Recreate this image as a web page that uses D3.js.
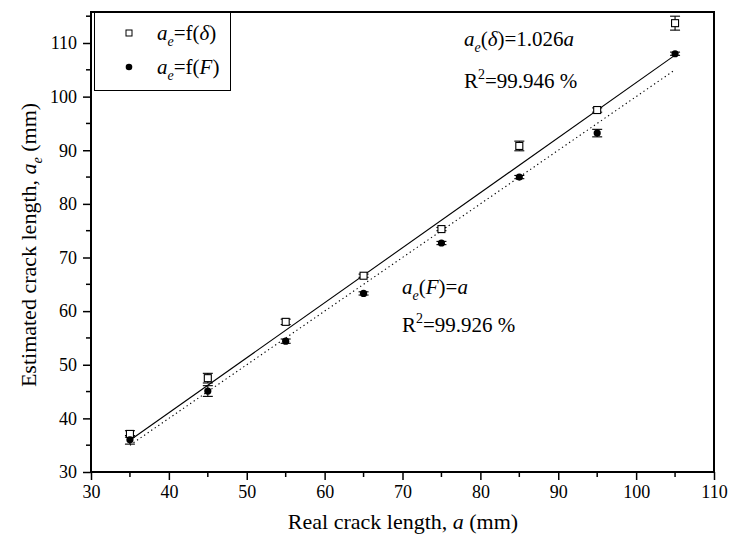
<!DOCTYPE html>
<html><head><meta charset="utf-8">
<script src="https://cdn.jsdelivr.net/npm/d3@7"></script>
<style>body{margin:0;background:#fff}svg{display:block}svg text{font-family:"Liberation Serif","Tinos","Times New Roman","Noto Serif","DejaVu Serif",serif !important;fill:#000}</style>
</head><body>
<svg id="c" width="729" height="536"></svg>
<script>
const crackLength = [35, 45, 55, 65, 75, 85, 95, 105];
const aeDelta = [37.1, 47.5, 58.0, 66.6, 75.3, 90.8, 97.5, 113.7];
const aeDeltaErr = [0.6, 0.9, 0.5, 0.3, 0.3, 0.9, 0.4, 1.3];
const aeForce = [36.0, 45.1, 54.4, 63.3, 72.7, 85.0, 93.2, 108.0];
const aeForceErr = [0.8, 1.0, 0.4, 0.3, 0.3, 0.3, 0.7, 0.3];
const fitRange = [35, 105];
const fitSlopeDelta = 1.026;
const fitSlopeForce = 1.0;
const xTicks = [30, 40, 50, 60, 70, 80, 90, 100, 110];
const yTicks = [30, 40, 50, 60, 70, 80, 90, 100, 110];

const FONT = '"Liberation Serif","Tinos","Times New Roman","Noto Serif","DejaVu Serif",serif';
const svg = d3.select("#c").attr("font-family", FONT);
const L = 91, R = 714, T = 12, B = 472;
const x = d3.scaleLinear().domain([30, 110]).range([L, R]);
const y = d3.scaleLinear().domain([30, 110]).range([B, 43]);

// frame
svg.append("rect").attr("x", L).attr("y", T).attr("width", R - L).attr("height", B - T)
  .attr("fill", "none").attr("stroke", "#000").attr("stroke-width", 2);

// x axis
const xMinor = d3.range(35, 110, 10);
const gx = svg.append("g").attr("transform", `translate(0,${B})`);
gx.call(d3.axisBottom(x).tickValues(xTicks).tickSize(8).tickPadding(5).tickFormat(d3.format("d")));
gx.attr("font-family", FONT);
gx.call(g => g.select(".domain").remove());
gx.selectAll(".tick line").attr("stroke-width", 1.5);
gx.selectAll(".tick text").attr("font-size", 18);
gx.selectAll(".minor").data(xMinor).enter().append("line").attr("class", "minor")
  .attr("x1", d => x(d)).attr("x2", d => x(d)).attr("y1", 0).attr("y2", 5)
  .attr("stroke", "#000").attr("stroke-width", 1.5);

// y axis
const yMinor = d3.range(35, 116, 10);
const gy = svg.append("g").attr("transform", `translate(${L},0)`);
gy.call(d3.axisLeft(y).tickValues(yTicks).tickSize(8).tickPadding(6).tickFormat(d3.format("d")));
gy.attr("font-family", FONT);
gy.call(g => g.select(".domain").remove());
gy.selectAll(".tick line").attr("stroke-width", 1.5);
gy.selectAll(".tick text").attr("font-size", 18);
gy.selectAll(".minor").data(yMinor).enter().append("line").attr("class", "minor")
  .attr("y1", d => y(d)).attr("y2", d => y(d)).attr("x1", 0).attr("x2", -5)
  .attr("stroke", "#000").attr("stroke-width", 1.5);

// axis titles
const xt = svg.append("text").attr("x", 403).attr("y", 529).attr("text-anchor", "middle").attr("font-size", 22);
xt.append("tspan").text("Real crack length, ");
xt.append("tspan").attr("font-style", "italic").text("a");
xt.append("tspan").text(" (mm)");

const yt = svg.append("text").attr("transform", "translate(36,245) rotate(-90)").attr("text-anchor", "middle").attr("font-size", 22);
yt.append("tspan").text("Estimated crack length, ");
yt.append("tspan").attr("font-style", "italic").text("a");
yt.append("tspan").attr("font-style", "italic").attr("font-size", 14).attr("dy", 6).text("e");
yt.append("tspan").attr("dy", -6).text(" (mm)");

// fit lines
const line = d3.line().x(d => x(d[0])).y(d => y(d[1]));
svg.append("path").datum(fitRange.map(v => [v, v * fitSlopeDelta])).attr("d", line)
  .attr("fill", "none").attr("stroke", "#000").attr("stroke-width", 1.1);
svg.append("path").datum(fitRange.map(v => [v, v * fitSlopeForce])).attr("d", line)
  .attr("fill", "none").attr("stroke", "#000").attr("stroke-width", 1.1).attr("stroke-dasharray", "1.3,3");

// error bars
function errBars(vals, errs) {
  const g = svg.append("g").attr("stroke", "#000").attr("stroke-width", 1.1);
  crackLength.forEach((c, i) => {
    const cx = x(c), y1 = y(vals[i] + errs[i]), y2 = y(vals[i] - errs[i]);
    g.append("line").attr("x1", cx).attr("x2", cx).attr("y1", y1).attr("y2", y2);
    g.append("line").attr("x1", cx - 5).attr("x2", cx + 5).attr("y1", y1).attr("y2", y1);
    g.append("line").attr("x1", cx - 5).attr("x2", cx + 5).attr("y1", y2).attr("y2", y2);
  });
}
errBars(aeDelta, aeDeltaErr);
errBars(aeForce, aeForceErr);

svg.append("g").selectAll("rect").data(crackLength).enter().append("rect")
  .attr("x", (d) => x(d) - 3.5).attr("y", (d, i) => y(aeDelta[i]) - 3.5)
  .attr("width", 7).attr("height", 7).attr("fill", "#fff").attr("stroke", "#000").attr("stroke-width", 1.1);
svg.append("g").selectAll("circle").data(crackLength).enter().append("circle")
  .attr("cx", d => x(d)).attr("cy", (d, i) => y(aeForce[i])).attr("r", 3.6).attr("fill", "#000");

// legend
svg.append("rect").attr("x", 94.5).attr("y", 12.5).attr("width", 136).attr("height", 78)
  .attr("fill", "#fff").attr("stroke", "#000").attr("stroke-width", 1);
svg.append("rect").attr("x", 126).attr("y", 30).attr("width", 6).attr("height", 6)
  .attr("fill", "#fff").attr("stroke", "#000").attr("stroke-width", 1);
svg.append("circle").attr("cx", 129).attr("cy", 67).attr("r", 3.3).attr("fill", "#000");
function eqText(xp, yp, parts, anchor) {
  const t = svg.append("text").attr("x", xp).attr("y", yp).attr("font-size", 21)
    .attr("text-anchor", anchor || "start");
  parts.forEach(p => {
    const s = t.append("tspan").text(p.t);
    if (p.i) s.attr("font-style", "italic");
    if (p.sub) s.attr("font-size", 14).attr("dy", 6);
    if (p.back) s.attr("dy", -6);
    if (p.sup) s.attr("font-size", 14).attr("dy", -9);
    if (p.supback) s.attr("dy", 9);
  });
}
eqText(157, 40, [{t: "a", i: 1}, {t: "e", i: 1, sub: 1}, {t: "=f(", back: 1}, {t: "δ", i: 1}, {t: ")"}]);
eqText(157, 74, [{t: "a", i: 1}, {t: "e", i: 1, sub: 1}, {t: "=f(", back: 1}, {t: "F", i: 1}, {t: ")"}]);

// annotations
eqText(464, 46, [{t: "a", i: 1}, {t: "e", i: 1, sub: 1}, {t: "(", back: 1}, {t: "δ", i: 1}, {t: ")=1.026"}, {t: "a", i: 1}]);
eqText(464, 88, [{t: "R"}, {t: "2", sup: 1}, {t: "=99.946 %", supback: 1}]);
eqText(402, 294, [{t: "a", i: 1}, {t: "e", i: 1, sub: 1}, {t: "(", back: 1}, {t: "F", i: 1}, {t: ")="}, {t: "a", i: 1}]);
eqText(402, 332, [{t: "R"}, {t: "2", sup: 1}, {t: "=99.926 %", supback: 1}]);
</script>
</body></html>
